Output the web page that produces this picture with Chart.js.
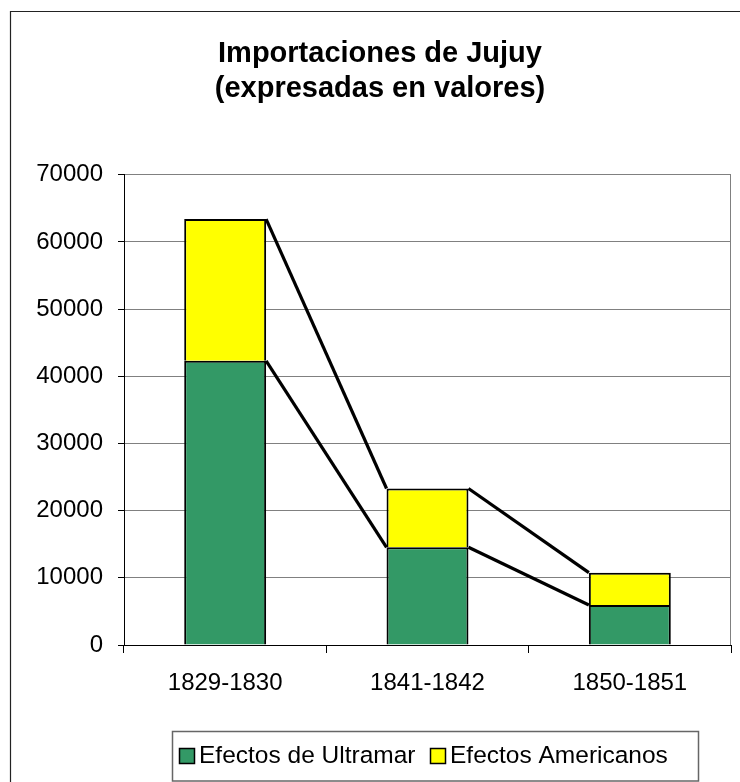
<!DOCTYPE html>
<html>
<head>
<meta charset="utf-8">
<script src="https://cdn.jsdelivr.net/npm/chart.js@4.4.1/dist/chart.umd.min.js"></script>
<style>
  body { margin: 0; background: #fff; }
</style>
</head>
<body>
<canvas id="jujuyChart" width="740" height="782"></canvas>
<script>
// datos
var periodos = ['1829-1830', '1841-1842', '1850-1851'];
var ultramar = [42300, 14550, 5960];
var americanos = [21100, 8750, 4810];
var serieNombres = ['Efectos de Ultramar', 'Efectos Americanos'];
var yMax = 70000;
var yPaso = 10000;

var FUENTE = '"Liberation Sans", Arial, sans-serif';

// marco, borde del area del grafico y lineas entre barras
var extras = {
    id: 'extras',
    beforeDraw: function(chart) {
        var ctx = chart.ctx;
        ctx.save();
        ctx.fillStyle = '#fff';
        ctx.fillRect(0, 0, chart.width, chart.height);
        ctx.strokeStyle = '#222';
        ctx.lineWidth = 1.2;
        ctx.beginPath();
        ctx.moveTo(10.5, chart.height);
        ctx.lineTo(10.5, 11.5);
        ctx.lineTo(chart.width, 11.5);
        ctx.stroke();
        ctx.restore();
    },
    afterDatasetsDraw: function(chart) {
        var ctx = chart.ctx;
        var a = chart.chartArea;
        ctx.save();
        ctx.strokeStyle = '#808080';
        ctx.lineWidth = 1;
        ctx.beginPath();
        ctx.moveTo(a.right - 0.5, a.top);
        ctx.lineTo(a.right - 0.5, a.bottom);
        ctx.stroke();

        // lineas de serie (estilo Excel)
        ctx.strokeStyle = '#000';
        ctx.lineWidth = 3.2;
        chart.data.datasets.forEach(function(ds, di) {
            var meta = chart.getDatasetMeta(di);
            for (var i = 0; i < meta.data.length - 1; i++) {
                var b = meta.data[i], n = meta.data[i + 1];
                ctx.beginPath();
                ctx.moveTo(b.x + b.width / 2, b.y);
                ctx.lineTo(n.x - n.width / 2, n.y);
                ctx.stroke();
            }
        });
        ctx.restore();
    },
    afterDraw: function(chart) {
        // leyenda con recuadro
        var ctx = chart.ctx;
        ctx.save();
        ctx.strokeStyle = '#666';
        ctx.lineWidth = 1.5;
        ctx.strokeRect(172.5, 731.5, 526, 49.5);
        ctx.font = '24.5px ' + FUENTE;
        ctx.textBaseline = 'alphabetic';
        var posiciones = [179, 430];
        chart.data.datasets.forEach(function(ds, di) {
            var x = posiciones[di];
            ctx.fillStyle = ds.backgroundColor;
            ctx.fillRect(x, 748, 16, 16);
            ctx.strokeStyle = '#000';
            ctx.lineWidth = 1.5;
            ctx.strokeRect(x + 0.5, 748.5, 15, 15);
            ctx.fillStyle = '#000';
            ctx.fillText(ds.label, x + 20, 763);
        });
        ctx.restore();
    }
};

var ctx = document.getElementById('jujuyChart').getContext('2d');
var chart = new Chart(ctx, {
    type: 'bar',
    data: {
        labels: periodos,
        datasets: [{
            label: serieNombres[0],
            data: ultramar,
            backgroundColor: '#339966',
            borderColor: '#000',
            borderWidth: 2
        }, {
            label: serieNombres[1],
            data: americanos,
            backgroundColor: '#ffff00',
            borderColor: '#000',
            borderWidth: 2
        }]
    },
    options: {
        responsive: false,
        animation: false,
        barPercentage: 0.405,
        categoryPercentage: 1,
        layout: { padding: { left: 29, right: 9, top: 0, bottom: 77 } },
        plugins: {
            legend: { display: false },
            tooltip: { enabled: false },
            title: {
                display: true,
                text: ['Importaciones de Jujuy', '(expresadas en valores)'],
                color: '#000',
                font: { family: FUENTE, size: 29, weight: 'bold', lineHeight: 1.22 },
                padding: { top: 36, bottom: 68 }
            }
        },
        scales: {
            x: {
                stacked: true,
                grid: { drawOnChartArea: false, color: '#000', tickLength: 8, offset: true },
                border: { color: '#000', width: 1 },
                ticks: { color: '#000', font: { family: FUENTE, size: 24 }, padding: 16, maxRotation: 0 },
                afterFit: function(scale) { scale.height = 60; }
            },
            y: {
                stacked: true,
                min: 0,
                max: yMax,
                grid: { color: '#808080', tickColor: '#000', tickLength: 6 },
                border: { color: '#000', width: 1 },
                ticks: {
                    stepSize: yPaso,
                    color: '#000',
                    font: { family: FUENTE, size: 24 },
                    padding: 15,
                    callback: function(v) { return String(v); }
                },
                afterFit: function(scale) { scale.width = 95; }
            }
        }
    },
    plugins: [extras]
});
</script>
</body>
</html>
